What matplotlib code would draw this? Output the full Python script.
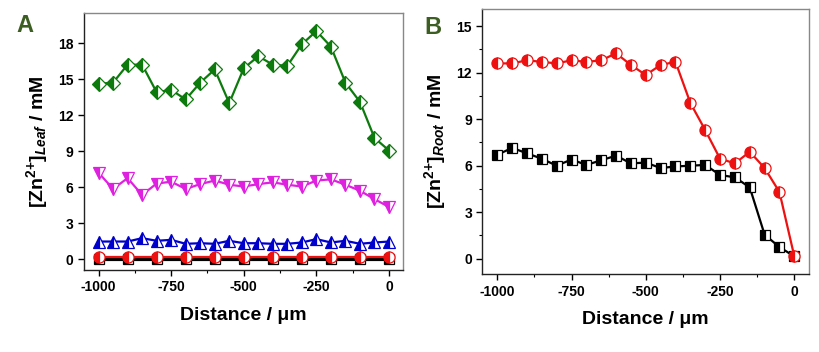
import matplotlib
matplotlib.use("Agg")
import matplotlib.pyplot as plt
from matplotlib.ticker import MultipleLocator

plt.rcParams['font.family'] = ['Liberation Sans', 'DejaVu Sans']
plt.rcParams['font.weight'] = 'bold'
plt.rcParams['axes.unicode_minus'] = False
plt.rcParams['mathtext.fontset'] = 'custom'
plt.rcParams['mathtext.rm'] = 'Liberation Sans:bold'
plt.rcParams['mathtext.it'] = 'Liberation Sans:italic:bold'
plt.rcParams['mathtext.bf'] = 'Liberation Sans:bold'

# distance grid (um)
dist = list(range(-1000, 1, 50))
dist_sparse = list(range(-1000, 1, 100))

# panel A: leaf
leaf_green = [14.6, 14.7, 16.2, 16.2, 13.9, 14.1, 13.3, 14.7, 15.8, 13.0, 15.9,
              16.9, 16.2, 16.1, 17.9, 19.0, 17.7, 14.7, 13.1, 10.1, 9.05]
leaf_magenta = [7.2, 5.85, 6.75, 5.35, 6.3, 6.45, 5.85, 6.25, 6.55, 6.2, 6.05,
                6.25, 6.4, 6.2, 6.05, 6.55, 6.65, 6.2, 5.7, 5.0, 4.35]
leaf_blue = [1.47, 1.47, 1.47, 1.75, 1.53, 1.61, 1.28, 1.33, 1.28, 1.53, 1.33,
             1.33, 1.28, 1.28, 1.39, 1.67, 1.39, 1.53, 1.28, 1.39, 1.47]
leaf_red = [0.15] * 11
leaf_black = [0.0] * 11

# panel B: root
root_red = [12.6, 12.6, 12.8, 12.7, 12.6, 12.8, 12.7, 12.8, 13.25, 12.5, 11.85,
            12.5, 12.7, 10.05, 8.3, 6.45, 6.15, 6.9, 5.85, 4.3, 0.15]
root_black = [6.7, 7.15, 6.8, 6.45, 6.0, 6.4, 6.05, 6.35, 6.65, 6.15, 6.2,
              5.85, 5.95, 6.0, 6.05, 5.4, 5.25, 4.6, 1.55, 0.75, 0.15]

fig = plt.figure(figsize=(8.19, 3.52), dpi=100)
axA = fig.add_axes([0.1026, 0.233, 0.3894, 0.730])
axB = fig.add_axes([0.589, 0.221, 0.399, 0.753])


def half(ax, x, y, color, marker, ms, lw=1.6, zorder=3):
    ax.plot(x, y, color=color, lw=lw, marker=marker, ms=ms, fillstyle='left',
            markerfacecolor=color, markerfacecoloralt='white',
            markeredgecolor=color, markeredgewidth=0.9, zorder=zorder)


half(axA, dist_sparse, leaf_black, 'black', 's', 6.5, lw=3.0, zorder=2)
half(axA, dist_sparse, leaf_red, '#ee1111', 'o', 8, lw=1.6, zorder=3)
half(axA, dist, leaf_blue, '#0000cc', '^', 8)
half(axA, dist, leaf_magenta, '#e020e0', 'v', 8)
half(axA, dist, leaf_green, '#0d7a0d', 'D', 7.5)

half(axB, dist, root_black, 'black', 's', 7)
half(axB, dist, root_red, '#ee1111', 'o', 8)

axA.set_xlim(-1050, 48)
axA.set_ylim(-0.9, 20.5)
axA.yaxis.set_major_locator(MultipleLocator(3))
axB.set_xlim(-1050, 50)
axB.set_ylim(-1.0, 16.1)
axB.yaxis.set_major_locator(MultipleLocator(3))
axB.yaxis.set_minor_locator(MultipleLocator(1.5))

for ax in (axA, axB):
    ax.xaxis.set_major_locator(MultipleLocator(250))
    ax.xaxis.set_minor_locator(MultipleLocator(125))
    ax.tick_params(which='major', direction='out', length=4, width=1,
                   labelsize=10, top=False, right=False)
    ax.tick_params(which='minor', direction='out', length=2, width=0.8,
                   top=False, right=False)
    for lab in ax.get_xticklabels() + ax.get_yticklabels():
        lab.set_fontweight('bold')
    ax.spines['left'].set_color('#222222')
    ax.spines['bottom'].set_color('#222222')
    ax.spines['top'].set_color('#888888')
    ax.spines['right'].set_color('#888888')
    for s in ax.spines.values():
        s.set_linewidth(1.0)
    ax.set_xlabel('Distance / μm', fontsize=14, fontweight='bold', labelpad=9)

axA.set_ylabel(r'[Zn$^{2{+}}$]$_{Leaf}$ / mM', fontsize=14, fontweight='bold', labelpad=6)
axB.set_ylabel(r'[Zn$^{2{+}}$]$_{Root}$ / mM', fontsize=14, fontweight='bold', labelpad=6)

fig.text(25 / 819, 1 - 25 / 352, 'A', fontsize=17, fontweight='bold',
         color='#3d5e22', ha='center', va='center')
fig.text(433 / 819, 1 - 27 / 352, 'B', fontsize=17, fontweight='bold',
         color='#3d5e22', ha='center', va='center')

fig.savefig('out.png', dpi=100)
